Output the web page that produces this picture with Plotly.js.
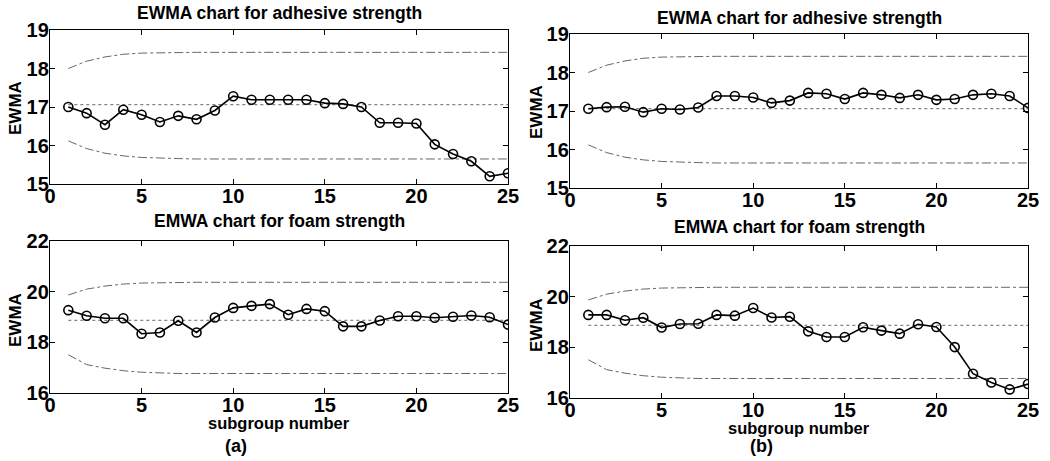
<!DOCTYPE html>
<html>
<head>
<meta charset="utf-8">
<script src="https://cdn.plot.ly/plotly-3.0.1.min.js"></script>
<style>html,body{margin:0;padding:0;background:#fff;}#chart{width:1050px;height:461px;}</style>
</head>
<body>
<div id="chart"></div>
<script>
// ---- data ----
const subgroup = [1,2,3,4,5,6,7,8,9,10,11,12,13,14,15,16,17,18,19,20,21,22,23,24,25];

const adhesiveA = [17.00,16.84,16.54,16.93,16.80,16.61,16.77,16.68,16.91,17.28,17.19,17.19,17.19,17.19,17.10,17.08,17.00,16.59,16.59,16.57,16.03,15.78,15.59,15.20,15.28];
const adhesiveB = [17.06,17.10,17.11,16.97,17.06,17.04,17.09,17.39,17.39,17.35,17.21,17.27,17.47,17.45,17.31,17.47,17.42,17.34,17.42,17.29,17.31,17.42,17.45,17.39,17.08];
const foamA = [19.27,19.05,18.95,18.95,18.34,18.39,18.85,18.39,18.98,19.36,19.44,19.51,19.09,19.32,19.23,18.63,18.63,18.86,19.03,19.03,18.97,19.01,19.06,18.99,18.70];
const foamB = [19.28,19.28,19.07,19.17,18.78,18.92,18.93,19.28,19.25,19.55,19.18,19.21,18.63,18.41,18.41,18.79,18.66,18.54,18.91,18.80,18.01,16.96,16.61,16.34,16.55];

const adhesiveUCL = [18.00,18.19,18.30,18.37,18.40,18.41,18.42,18.42,18.42,18.42,18.42,18.42,18.42,18.42,18.42,18.42,18.42,18.42,18.42,18.42,18.42,18.42,18.42,18.42,18.42];
const adhesiveCL  = [17.06,17.06,17.06,17.06,17.06,17.06,17.06,17.06,17.06,17.06,17.06,17.06,17.06,17.06,17.06,17.06,17.06,17.06,17.06,17.06,17.06,17.06,17.06,17.06,17.06];
const adhesiveLCL = [16.12,15.92,15.80,15.73,15.69,15.67,15.66,15.65,15.65,15.65,15.65,15.65,15.65,15.65,15.65,15.65,15.65,15.65,15.65,15.65,15.65,15.65,15.65,15.65,15.65];

const foamUCL = [19.87,20.10,20.22,20.30,20.34,20.36,20.37,20.37,20.37,20.37,20.37,20.37,20.37,20.37,20.37,20.37,20.37,20.37,20.37,20.37,20.37,20.37,20.37,20.37,20.37];
const foamCL  = [18.87,18.87,18.87,18.87,18.87,18.87,18.87,18.87,18.87,18.87,18.87,18.87,18.87,18.87,18.87,18.87,18.87,18.87,18.87,18.87,18.87,18.87,18.87,18.87,18.87];
const foamLCL = [17.51,17.12,16.98,16.88,16.82,16.79,16.77,16.77,16.77,16.77,16.77,16.77,16.77,16.77,16.77,16.77,16.77,16.77,16.77,16.77,16.77,16.77,16.77,16.77,16.77];

const xTicks = [0,5,10,15,20,25];
const adhesiveTicks = [15,16,17,18,19];
const foamTicks = [16,18,20,22];

const titleAdhesive = "EWMA chart for adhesive strength";
const titleFoam = "EMWA chart for foam strength";
const yLabel = "EWMA";
const xLabel = "subgroup number";
const panelLabels = ["(a)", "(b)"];

// ---- layout helpers ----
const W = 1050, H = 461;
const px = v => v / W;
const py = v => 1 - v / H;
const FONT = "Liberation Sans, Arial, Helvetica, sans-serif";

const panels = [
  {ax:"", y: adhesiveA, ucl: adhesiveUCL, cl: adhesiveCL, lcl: adhesiveLCL, xd:[50,508], yd:[30,184], yr:[15,19], yt: adhesiveTicks},
  {ax:"2", y: adhesiveB, ucl: adhesiveUCL, cl: adhesiveCL, lcl: adhesiveLCL, xd:[570,1028], yd:[34,188], yr:[15,19], yt: adhesiveTicks},
  {ax:"3", y: foamA, ucl: foamUCL, cl: foamCL, lcl: foamLCL, xd:[50,508], yd:[241,393], yr:[16,22], yt: foamTicks},
  {ax:"4", y: foamB, ucl: foamUCL, cl: foamCL, lcl: foamLCL, xd:[570,1028], yd:[246,398], yr:[16,22], yt: foamTicks}
];

const traces = [];
const layout = {
  width: W, height: H,
  margin: {l:0, r:0, t:0, b:0},
  paper_bgcolor: "#fff", plot_bgcolor: "#fff",
  showlegend: false,
  font: {family: FONT, color: "#000"},
  annotations: []
};

panels.forEach(p => {
  const xa = "x" + p.ax, ya = "y" + p.ax;
  const limStyle = {color: "#666", width: 1, dash: "dashdot"};
  traces.push({x: subgroup, y: p.ucl, xaxis: xa, yaxis: ya, mode: "lines", line: limStyle, hoverinfo: "skip"});
  traces.push({x: subgroup, y: p.lcl, xaxis: xa, yaxis: ya, mode: "lines", line: limStyle, hoverinfo: "skip"});
  traces.push({x: subgroup, y: p.cl, xaxis: xa, yaxis: ya, mode: "lines", line: {color: "#666", width: 1, dash: "dot"}, hoverinfo: "skip"});
  traces.push({x: subgroup, y: p.y, xaxis: xa, yaxis: ya, mode: "lines+markers",
    line: {color: "#000", width: 1.6},
    marker: {symbol: "circle-open", size: 9, color: "#000", line: {width: 1.6, color: "#000"}}});

  const axCommon = {
    showgrid: false, zeroline: false, showline: true, linecolor: "#000", linewidth: 1.2,
    mirror: "allticks", ticks: "inside", ticklen: 5, tickcolor: "#000", tickwidth: 1,
    tickfont: {family: FONT, size: 20, weight: "bold", color: "#000"}
  };
  layout["xaxis" + p.ax] = Object.assign({}, axCommon, {
    domain: [px(p.xd[0]), px(p.xd[1])], range: [0, 25], tickvals: xTicks, anchor: ya, ticklabelstandoff: -6
  });
  layout["yaxis" + p.ax] = Object.assign({}, axCommon, {
    domain: [py(p.yd[1]), py(p.yd[0])], range: p.yr, tickvals: p.yt, anchor: xa, ticklabelstandoff: -4
  });
});

function ann(text, x, y, opts) {
  layout.annotations.push(Object.assign({
    text: text, xref: "paper", yref: "paper", x: px(x), y: py(y),
    xanchor: "center", yanchor: "middle", showarrow: false,
    font: {family: FONT, size: 17.5, weight: "bold", color: "#000"}
  }, opts || {}));
}

ann(titleAdhesive, 279, 13);
ann(titleAdhesive, 799, 18);
ann(titleFoam, 279, 221);
ann(titleFoam, 799, 227);
ann(xLabel, 279, 423, {font: {family: FONT, size: 16.5, weight: "bold", color: "#000"}});
ann(xLabel, 799, 428, {font: {family: FONT, size: 16.5, weight: "bold", color: "#000"}});
ann(panelLabels[0], 236, 446, {font: {family: FONT, size: 18, weight: "bold", color: "#000"}});
ann(panelLabels[1], 761, 446, {font: {family: FONT, size: 18, weight: "bold", color: "#000"}});
const yFont = {family: FONT, size: 17, weight: "bold", color: "#000"};
ann(yLabel, 15, 108, {textangle: -90, font: yFont});
ann(yLabel, 536, 112, {textangle: -90, font: yFont});
ann(yLabel, 15, 320, {textangle: -90, font: yFont});
ann(yLabel, 536, 325, {textangle: -90, font: yFont});

Plotly.newPlot("chart", traces, layout, {staticPlot: true, displayModeBar: false});
</script>
</body>
</html>
